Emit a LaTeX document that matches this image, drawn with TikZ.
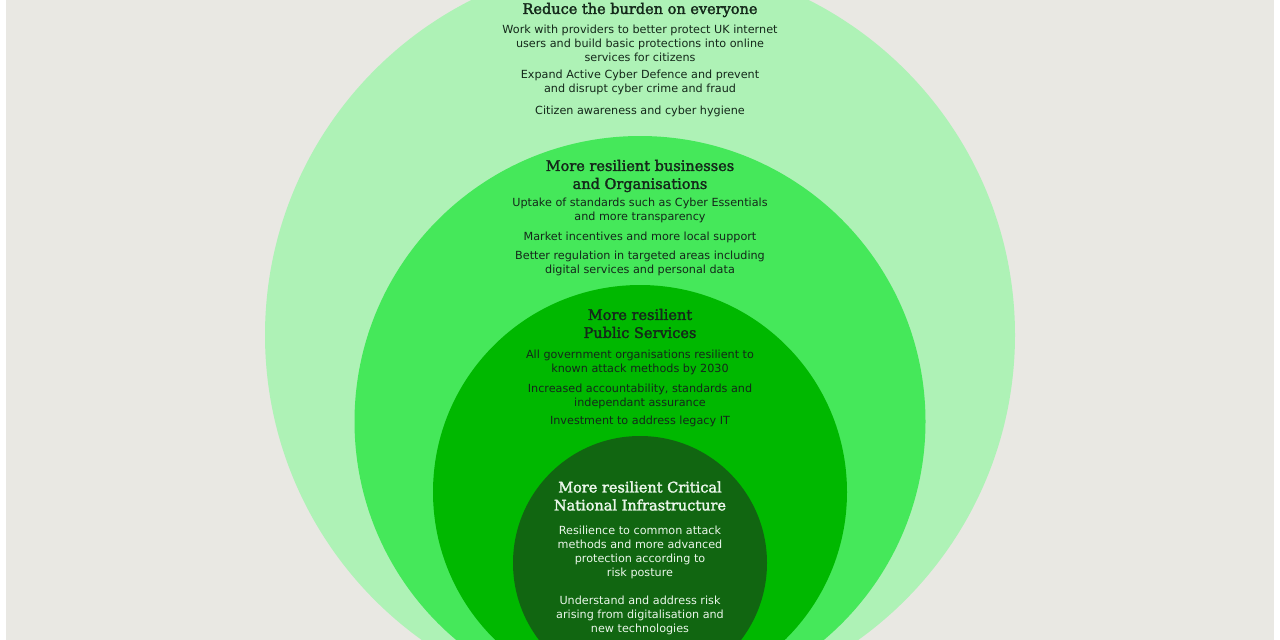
\documentclass[tikz,border=0pt]{standalone}
\usepackage{fontspec}
\newfontfamily\bodyfont{DejaVu Sans}
\newfontfamily\headfont[FakeBold=2]{DejaVu Serif}
\definecolor{bgc}{HTML}{E9E8E3}
\definecolor{c1}{HTML}{AEF2B6}
\definecolor{c2}{HTML}{45E85A}
\definecolor{c3}{HTML}{00B800}
\definecolor{c4}{HTML}{116611}
\definecolor{txt}{HTML}{14281A}
\definecolor{wtxt}{HTML}{EAF6EA}
\tikzset{
  ring/.style={circle, draw=none, inner sep=0pt},
  body/.style={align=center, text=txt, inner sep=0pt, font=\bodyfont\fontsize{11.2}{14}\selectfont},
  head/.style={align=center, text=txt, inner sep=0pt, font=\headfont\fontsize{14.5}{18}\selectfont},
  wbody/.style={body, text=wtxt},
  whead/.style={head, text=wtxt}
}
\begin{document}
\begin{tikzpicture}[x=1pt,y=-1pt]
\useasboundingbox (0,0) rectangle (1280,640);
\fill[white] (0,0) rectangle (1280,640);
\fill[bgc] (6,0) rectangle (1274,640);
\clip (0,0) rectangle (1280,640);
\node[ring, fill=c1, minimum size=750pt] (outer) at (640,335) {};
\node[ring, fill=c2, minimum size=571pt] (second) at (640,421.5) {};
\node[ring, fill=c3, minimum size=414pt] (third) at (640,492) {};
\node[ring, fill=c4, minimum size=254pt] (inner) at (640,563) {};
% outer
\node[head] (h1) at (640,10) {Reduce the burden on everyone};
\node[body] (p11) at (640,43) {Work with providers to better protect UK internet\\users and build basic protections into online\\services for citizens};
\node[body] (p12) at (640,82) {Expand Active Cyber Defence and prevent\\and disrupt cyber crime and fraud};
\node[body] (p13) at (640,111) {Citizen awareness and cyber hygiene};
% second
\node[head] (h2) at (640,176) {More resilient businesses\\and Organisations};
\node[body] (p21) at (640,210) {Uptake of standards such as Cyber Essentials\\and more transparency};
\node[body] (p22) at (640,237) {Market incentives and more local support};
\node[body] (p23) at (640,263) {Better regulation in targeted areas including\\digital services and personal data};
% third
\node[head] (h3) at (640,323.5) {More resilient\\Public Services};
\node[body] (p31) at (640,362) {All government organisations resilient to\\known attack methods by 2030};
\node[body] (p32) at (640,396.5) {Increased accountability, standards and\\independant assurance};
\node[body] (p33) at (640,421) {Investment to address legacy IT};
% inner
\node[whead] (h4) at (640,496) {More resilient Critical\\National Infrastructure};
\node[wbody] (p41) at (640,552.5) {Resilience to common attack\\methods and more advanced\\protection according to\\risk posture};
\node[wbody] (p42) at (640,615) {Understand and address risk\\arising from digitalisation and\\new technologies};
\end{tikzpicture}
\end{document}
